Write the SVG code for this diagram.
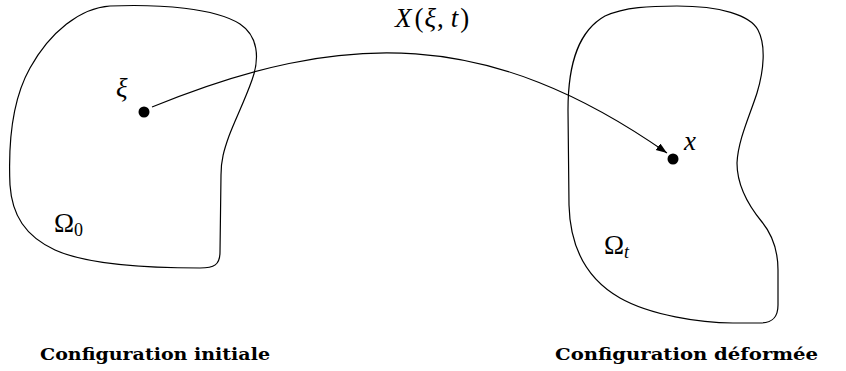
<svg xmlns="http://www.w3.org/2000/svg" width="846" height="371" viewBox="0 0 846 371">
<style>
.shape{fill:none;stroke:#000;stroke-width:1.2}
.conn{fill:none;stroke:#000;stroke-width:1.1}
.math{font-family:"Liberation Serif","Times New Roman",serif;font-style:italic;font-size:27px;fill:#000}
.up{font-family:"Liberation Serif","Times New Roman",serif;font-style:normal;font-size:27px;fill:#000}
.sub{font-family:"Liberation Serif","Times New Roman",serif;font-style:normal;font-size:18px;fill:#000}
.subi{font-family:"Liberation Serif","Times New Roman",serif;font-style:italic;font-size:18px;fill:#000}
.cap{font-family:"DejaVu Serif",serif;font-weight:bold;font-size:17px;fill:#000}
.dot{fill:#000}
</style>
<defs>
<marker id="arr" markerUnits="userSpaceOnUse" markerWidth="12" markerHeight="9" refX="11" refY="4" orient="auto">
<path d="M0,0 L11,4 L0,8 Z" fill="#000"/>
</marker>
</defs>
<rect width="846" height="371" fill="#fff"/>
<g id="omega0">
<path class="shape" d="M110,6 C160,4 215,8 240,24 C258,36 260,58 252,80 C245,100 235,120 229,136 C224,150 221,160 221,175 L220,252 C220,265 214,268 200,268 C160,268 90,266 55,250 C25,236 12,215 10,185 C8,140 12,100 30,68 C50,32 80,8 110,6 Z"/>
<text class="up" x="54" y="232">Ω<tspan class="sub" dy="4">0</tspan></text>
</g>
<g id="omegat">
<path class="shape" d="M677,6 C720,6 750,15 758,30 C766,45 764,70 757,93 C750,115 738,140 737,163 C737,185 748,205 762,222 C775,238 778,255 778,270 L778,305 C778,318 772,323 760,323 L733,323 C700,323 650,315 620,298 C585,278 570,245 569,205 L568,110 C568,60 580,30 605,16 C625,7 650,6 677,6 Z"/>
<text class="up" x="604" y="254">Ω<tspan class="subi" dy="4">t</tspan></text>
</g>
<g id="xi">
<circle class="dot" cx="144" cy="112" r="5.5"/>
<text class="math" x="116" y="97">ξ</text>
</g>
<g id="x">
<circle class="dot" cx="673" cy="159" r="5.5"/>
<text class="math" x="684" y="150">x</text>
</g>
<g id="connectors">
<path class="conn" d="M152,107 C345,28 490,29 667,153" marker-end="url(#arr)"/>
<text class="math" x="395" y="27" font-size="28">X<tspan class="up" font-size="28" dx="3">(</tspan><tspan dx="1">ξ</tspan><tspan class="up" font-size="28" dx="1">,</tspan><tspan dx="7">t</tspan><tspan class="up" font-size="28" dx="2">)</tspan></text>
</g>
<text class="cap" x="40" y="360" textLength="230" lengthAdjust="spacingAndGlyphs">Configuration initiale</text>
<text class="cap" x="555" y="360" textLength="263" lengthAdjust="spacingAndGlyphs">Configuration déformée</text>
</svg>
